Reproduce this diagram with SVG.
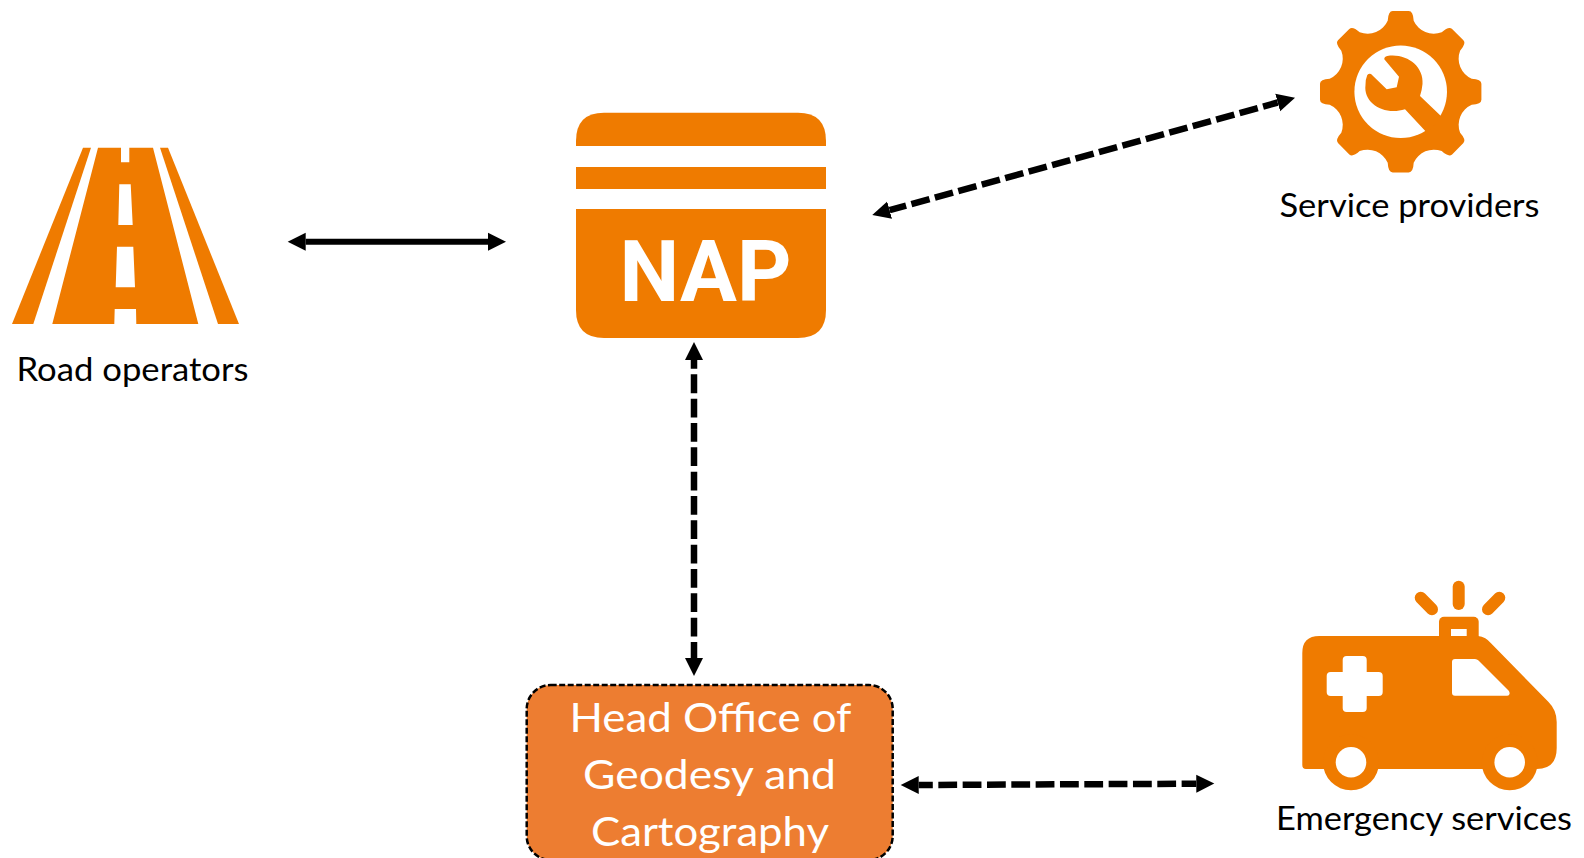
<svg xmlns="http://www.w3.org/2000/svg" width="1584" height="858" viewBox="0 0 1584 858">
<style>
.o{fill:#EF7B00}
.w{fill:#fff}
.lbl{font-family:"Lato","Open Sans","Liberation Sans",sans-serif;font-size:32px;fill:#000}
.hd{font-family:"Lato","Open Sans","Liberation Sans",sans-serif;font-size:41.5px;fill:#fff;text-anchor:middle}
.c{fill:none;stroke:#000;stroke-width:6;marker-start:url(#ah);marker-end:url(#ah)}
.d{stroke-width:6.5;stroke-dasharray:18.8 5.53}
.ray{stroke:#EF7B00;stroke-width:12;stroke-linecap:round;fill:none}
</style>
<defs>
<marker id="ah" markerUnits="userSpaceOnUse" markerWidth="19" markerHeight="19" refX="0" refY="9" orient="auto-start-reverse" viewBox="0 0 19 18"><path d="M0,0L18,9L0,18z" fill="#000"/></marker>
</defs>
<rect width="1584" height="858" fill="#fff"/>
<g id="connectors">
<line class="c" x1="305.7" y1="241.7" x2="488" y2="241.7"/>
<line class="c d" x1="889.6" y1="210.2" x2="1277.7" y2="102.5" stroke-dashoffset="1.7"/>
<line class="c d" x1="694" y1="360" x2="694" y2="658" stroke-dashoffset="10"/>
<line class="c d" x1="918.7" y1="785" x2="1196.3" y2="783.7" stroke-dashoffset="4.7"/>
</g>
<g id="road-operators">
<path class="o" d="M12,324L83,147.7H91L33.3,324z"/>
<path class="o" d="M160,147.7H168L239,324H218z"/>
<path class="o" fill-rule="evenodd" d="M98,147.7H121V162.3H129.3V147.7H153L198.3,324H136.3L136,309H114.7L114.3,324H52.3zM119.3,184.3L118.3,225H132.7L130.7,184.3zM117,246.7L115.7,287.3H135L133.3,246.7z"/>
<text class="lbl" x="16.5" y="380.7" textLength="232" lengthAdjust="spacingAndGlyphs">Road operators</text>
</g>
<g id="nap">
<path class="o" d="M576,146V141Q576,112.7 604,112.7H798Q826,112.7 826,141V146z"/>
<rect class="o" x="576" y="167" width="250" height="22"/>
<path class="o" d="M576,209H826V310Q826,338 798,338H604Q576,338 576,310z"/>
<text x="705.5" y="301" text-anchor="middle" font-family="Roboto,Inter,'Liberation Sans',sans-serif" font-weight="700" font-size="85" fill="#fff" textLength="172" lengthAdjust="spacingAndGlyphs">NAP</text>
</g>
<g id="service-providers">
<g transform="translate(1400.7,91.7)">
<path class="o" d="M-13,-71Q-12.5,-80.7 -8,-80.7H8Q12.5,-80.7 13,-71A22,22 0 0 0 41,-59.4Q48.2,-65.9 51.4,-62.7L62.7,-51.4Q65.9,-48.2 59.4,-41A22,22 0 0 0 71,-13Q80.7,-12.5 80.7,-8V8Q80.7,12.5 71,13A22,22 0 0 0 59.4,41Q65.9,48.2 62.7,51.4L51.4,62.7Q48.2,65.9 41,59.4A22,22 0 0 0 13,71Q12.5,80.7 8,80.7H-8Q-12.5,80.7 -13,71A22,22 0 0 0 -41,59.4Q-48.2,65.9 -51.4,62.7L-62.7,51.4Q-65.9,48.2 -59.4,41A22,22 0 0 0 -71,13Q-80.7,12.5 -80.7,8V-8Q-80.7,-12.5 -71,-13A22,22 0 0 0 -59.4,-41Q-65.9,-48.2 -62.7,-51.4L-51.4,-62.7Q-48.2,-65.9 -41,-59.4A22,22 0 0 0 -13,-71z"/>
<circle class="w" r="46.3"/>
</g>
<path class="o" d="M1384.3,59.3Q1384,57 1387.3,56C1406,53 1424,66 1422.5,84Q1422,90 1420,96L1441.7,116.7Q1436,126 1426,131.7L1405,109.3C1384,116 1363,103 1365.5,85Q1365.5,79 1367.3,75Q1369,73 1371,74L1386.7,89.3L1396.7,87.3L1399,76.7z"/>
<text class="lbl" x="1279.5" y="216.7" textLength="260" lengthAdjust="spacingAndGlyphs">Service providers</text>
</g>
<g id="head-office">
<rect x="526.7" y="685" width="366" height="175" rx="24" fill="#ED7D31" stroke="#000" stroke-width="2.5" stroke-dasharray="6 2.5"/>
<text class="hd" x="710.5" y="731.7" textLength="282" lengthAdjust="spacingAndGlyphs">Head Office of</text>
<text class="hd" x="709.5" y="789" textLength="253" lengthAdjust="spacingAndGlyphs">Geodesy and</text>
<text class="hd" x="710" y="846" textLength="238" lengthAdjust="spacingAndGlyphs">Cartography</text>
</g>
<g id="emergency-services">
<line class="ray" x1="1458.7" y1="586.7" x2="1458.7" y2="604"/>
<line class="ray" x1="1420.7" y1="597.7" x2="1432" y2="609.3"/>
<line class="ray" x1="1499.3" y1="597.7" x2="1488" y2="609.3"/>
<rect class="o" x="1439" y="616.7" width="39.7" height="25" rx="5"/>
<rect class="w" x="1451" y="629" width="15.7" height="7"/>
<path class="o" d="M1319.3,636H1478Q1486,637 1491,643.3L1548.3,701.7Q1556.7,710 1556.7,722V748Q1556.7,769 1536.7,769H1306Q1302.3,769 1302.3,765V653Q1302.3,636 1319.3,636z"/>
<circle class="o" cx="1351" cy="762.3" r="28"/>
<circle class="o" cx="1509.7" cy="762.3" r="28"/>
<circle class="w" cx="1351" cy="762.3" r="15.3"/>
<circle class="w" cx="1509.7" cy="762.3" r="15.3"/>
<rect class="w" x="1326.7" y="672" width="56" height="24" rx="4"/>
<rect class="w" x="1342.7" y="656" width="24" height="56" rx="4"/>
<path class="w" d="M1452,662Q1452,659 1455,659H1475Q1477,659 1478.5,660.5L1508.5,690.5Q1510.5,693 1509,695Q1508.5,695.7 1507,695.7H1455Q1452,695.7 1452,692.7z"/>
<text class="lbl" x="1276" y="830.3" textLength="296" lengthAdjust="spacingAndGlyphs">Emergency services</text>
</g>
</svg>
